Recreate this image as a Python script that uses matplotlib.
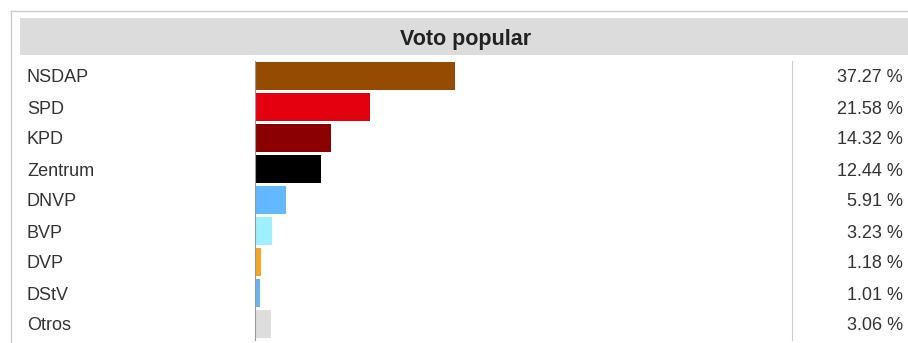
import matplotlib
matplotlib.use("Agg")
import matplotlib.pyplot as plt
from matplotlib.lines import Line2D
from matplotlib.patches import Rectangle
from matplotlib.transforms import blended_transform_factory

plt.rcParams['font.family'] = ['Liberation Sans', 'DejaVu Sans']

# data
parties = ["NSDAP", "SPD", "KPD", "Zentrum", "DNVP", "BVP", "DVP", "DStV", "Otros"]
votes = [37.27, 21.58, 14.32, 12.44, 5.91, 3.23, 1.18, 1.01, 3.06]
colors = ["#954B00", "#E3000F", "#8B0000", "#000000", "#63B8FF",
          "#9FF0FF", "#F5A623", "#6CB4EE", "#DDDDDD"]
title = "Voto popular"

W, H = 908, 343
fig = plt.figure(figsize=(W / 100, H / 100), dpi=100)

def fx(px):
    return px / W

def fy(py):
    return 1 - py / H

# outer frame
fig.add_artist(Line2D([fx(11), 1], [fy(10.5), fy(10.5)], color="#cccccc", lw=1))
fig.add_artist(Line2D([fx(11), fx(11)], [fy(10.5), 0], color="#cccccc", lw=1))

# header band
fig.add_artist(Rectangle((fx(20), fy(55)), 1 - fx(20), fy(18) - fy(55),
                         color="#dcdcdc", lw=0))
fig.text(fx(466), fy(37), title, ha="center", va="center_baseline",
         fontsize=15.5, fontweight="bold", color="#222222")

# bar axes
top, bottom = 60.5, 339.5
ax = fig.add_axes([fx(254.5), fy(bottom), fx(792) - fx(254.5), fy(top) - fy(bottom)])
ypos = list(range(len(parties)))
ax.barh(ypos, votes, height=0.9, color=colors, edgecolor="none")
ax.set_xlim(0, 100)
ax.set_ylim(len(parties) - 0.5, -0.5)
ax.set_xticks([])
ax.set_yticks([])
for s in ["top", "bottom"]:
    ax.spines[s].set_visible(False)
ax.spines["left"].set_color("#999999")
ax.spines["right"].set_color("#cccccc")

tr = blended_transform_factory(fig.transFigure, ax.transData)
for i, (p, v) in enumerate(zip(parties, votes)):
    ax.text(fx(27), i, p, transform=tr, ha="left", va="center_baseline",
            fontsize=13, color="#333333", clip_on=False)
    ax.text(fx(903), i, f"{v:.2f} %", transform=tr, ha="right", va="center_baseline",
            fontsize=13, color="#333333", clip_on=False)

fig.savefig("out.png", dpi=100)
